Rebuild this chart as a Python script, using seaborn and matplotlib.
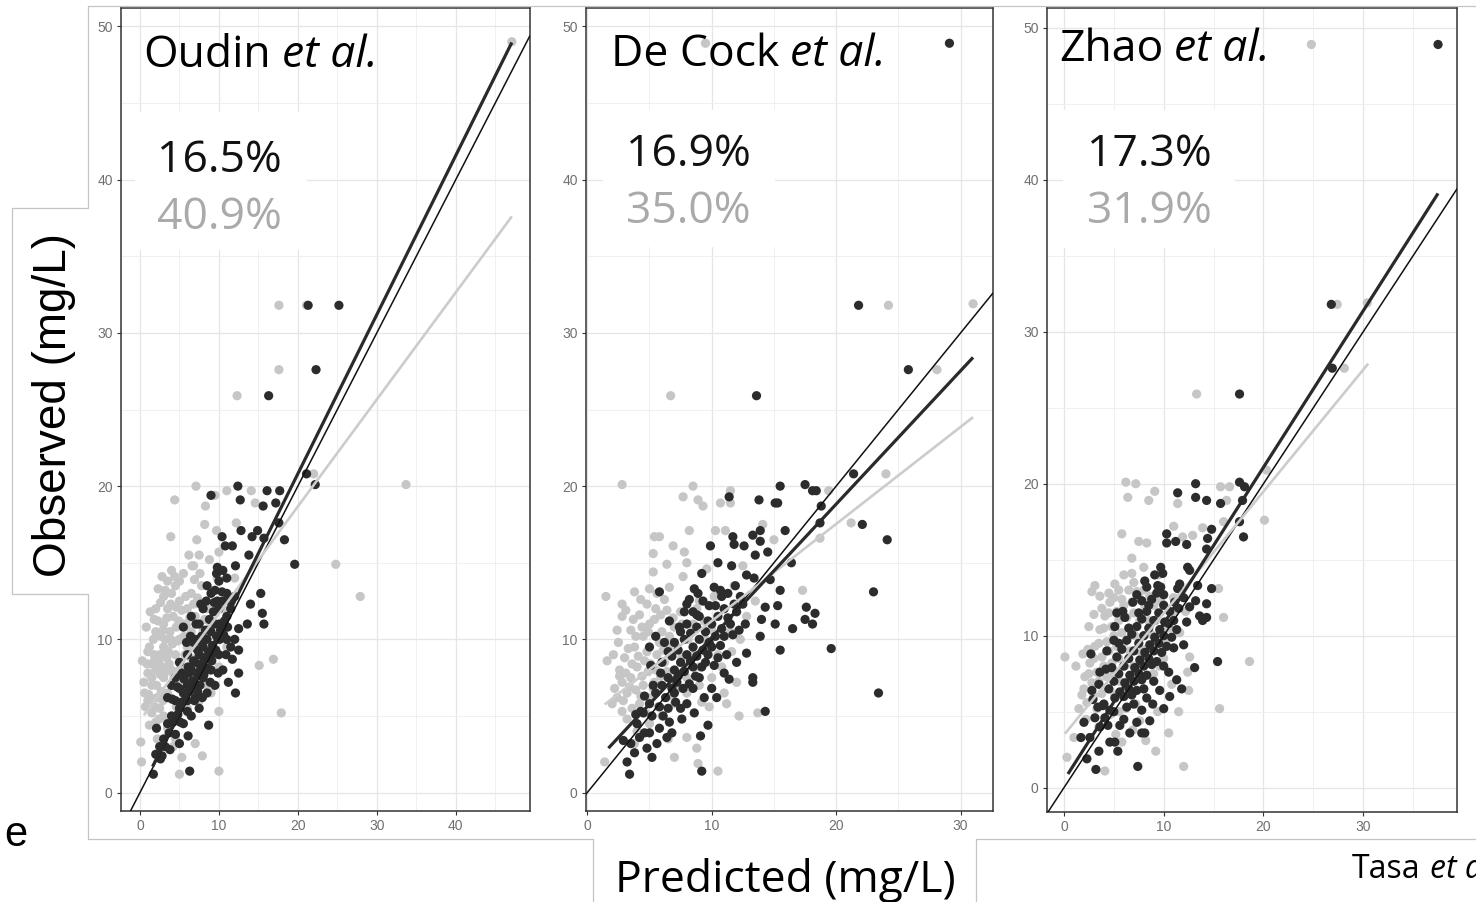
import numpy as np
import pandas as pd
import matplotlib
matplotlib.use('Agg')
import matplotlib.pyplot as plt
import seaborn as sns
from matplotlib.lines import Line2D
from matplotlib.patches import Rectangle
from matplotlib.ticker import MultipleLocator

W, H = 1476, 902
sns.set_theme(style="white")
plt.rcParams['font.family'] = ['Liberation Sans', 'DejaVu Sans']

DARK = '#2c2c2c'
LIGHT = '#c6c6c6'

# ---- data: (predicted, observed) ----
oudin_light = [
    (47.1, 49.0), (17.6, 31.8), (21.1, 31.8), (17.6, 27.6), (12.3, 25.9), (33.7, 20.1), (24.8, 14.9),
    (27.9, 12.8), (17.9, 5.2), (16.9, 8.7), (15.1, 8.3), (22.0, 20.8), (7.1, 20.0), (4.4, 19.1),
    (11.0, 19.7), (9.5, 19.4), (14.1, 19.7), (14.6, 18.9), (8.3, 18.7), (8.2, 17.5), (3.9, 16.7),
    (12.2, 17.6), (7.2, 16.5), (9.7, 17.1), (10.0, 15.7), (6.6, 14.8), (2.8, 14.1), (2.3, 13.3),
    (10.0, 1.4), (5.0, 1.2), (0.1, 3.3), (0.2, 2.0), (0.3, 8.6), (7.9, 2.4), (10.0, 5.3), (7.0, 3.2),
    (4.2, 3.0), (5.3, 2.3),
    (1, 6), (1.5, 7), (2, 8), (2.5, 9), (1.2, 9.5), (2, 10.5), (3, 11), (3.5, 12), (4, 13), (4.5, 13.5),
    (5, 12.5), (3, 7.5), (3.5, 6.5), (2.5, 5.5), (4, 5), (1.5, 5.2), (2.2, 6.2), (4, 8), (4.5, 9),
    (5, 10), (5.5, 11), (6, 12), (6.5, 13), (3, 9.5), (3.8, 10.5), (4.2, 11.5), (5.2, 8.5), (6, 9.5),
    (6.5, 10.5), (7, 11.5), (1, 7.8), (2.8, 8.2), (3.2, 10), (4.8, 7.2), (5.5, 6.5), (6, 7.5), (7, 8),
    (7.5, 9.5), (8, 10.5), (8.5, 12), (0.8, 10.8), (2, 12), (3.5, 13.8), (5.5, 14.3), (6.8, 14.8),
    (7.5, 15.5), (9, 11), (9.5, 9), (8.5, 7), (10, 8.2), (11, 9.5), (10.5, 12), (3.5, 4.2), (2, 4.6),
    (4.5, 3.5), (6, 5.5), (7.5, 6), (9, 6.5), (11.5, 12.5), (12, 14), (3, 12.8), (1.8, 9), (2.6, 10.2),
    (3.4, 8.8), (4.6, 10.8), (5.8, 12.8), (6.2, 15.5), (7.8, 13.5), (1.3, 11.8), (0.6, 6.5), (2.2, 3.5),
    (4, 14.5), (9.8, 14), (8.8, 15.2),
    (0.7, 5.6), (1.1, 6.4), (1.6, 6.1), (2.1, 7.0), (2.7, 6.6), (3.3, 7.9), (1.4, 8.4), (1.9, 8.8),
    (2.4, 8.5), (3.0, 9.0), (3.6, 9.2), (4.1, 9.7), (4.8, 9.9), (1.7, 10.0), (2.3, 11.2), (2.9, 10.6),
    (3.4, 11.4), (3.9, 12.3), (4.6, 12.1), (5.3, 11.9), (5.9, 10.9), (6.3, 11.4), (6.8, 12.3),
    (7.3, 12.7), (1.0, 9.2), (0.9, 8.4), (1.5, 7.5), (2.6, 7.7), (3.7, 8.4), (4.3, 7.6), (5.0, 8.0),
    (5.7, 9.0), (6.4, 8.8), (7.1, 9.4), (7.9, 9.0), (8.4, 9.8), (4.0, 6.1), (4.6, 5.6), (5.2, 5.9),
    (3.0, 5.0), (2.4, 4.8), (1.2, 4.4), (6.6, 6.7), (7.7, 7.3), (3.2, 13.2), (4.4, 14.1), (5.0, 13.8),
    (2.6, 12.4), (1.8, 11.3), (6.9, 13.9), (7.6, 14.3), (8.2, 11.3), (0.5, 7.2), (1.9, 5.6), (2.9, 6.0),
    (3.9, 10.0), (4.9, 11.2), (5.6, 10.2),
]
oudin_dark = [
    (21.3, 31.8), (25.2, 31.8), (22.3, 27.6), (16.3, 25.9), (19.6, 14.9), (18.3, 16.5), (22.2, 20.1),
    (21.1, 20.8), (12.4, 20.0), (9.0, 19.4), (16.1, 19.7), (17.7, 19.7), (12.7, 19.1), (15.6, 18.7),
    (17.2, 18.9), (17.6, 17.6), (12.8, 17.1), (10.4, 16.7), (14.9, 17.1), (14.2, 16.7), (15.7, 16.6),
    (10.8, 16.1), (11.7, 16.1), (13.8, 15.5), (12.1, 14.8), (9.7, 14.3), (15.3, 13.0), (14.0, 12.3),
    (15.5, 11.7), (15.7, 11.0), (13.6, 11.0), (12.5, 10.7), (12.5, 9.3), (12.5, 7.8), (12.1, 6.5),
    (11.2, 7.2), (8.7, 4.4), (6.3, 1.4), (1.7, 1.2), (2.1, 4.2), (2.8, 2.4), (6.1, 3.7),
    (2, 2.5), (2.5, 3), (3, 3.5), (3.5, 4.5), (4, 5), (4.5, 6), (5, 5.5), (5.5, 6.5), (6, 7), (6.5, 8),
    (7, 8.5), (7.5, 9), (8, 9.5), (8.5, 10), (9, 10.5), (9.5, 11), (10, 12), (10.5, 12.5), (11, 13),
    (6, 9), (7, 10), (7.5, 11), (8, 12), (9, 13), (8.5, 13.5), (9.5, 13.2), (10, 13.8), (10.5, 14.5),
    (6.5, 11.5), (5.5, 10.8), (5, 8.5), (4, 7), (4.5, 7.5), (5, 6.8), (3.5, 6.2), (6, 6), (7, 7),
    (8, 7.5), (9, 8), (10, 9), (11, 10), (11.5, 9.5), (12, 10), (10.5, 8), (9.5, 7), (8.5, 6.5),
    (7.5, 5.5), (6.5, 5), (5.5, 4.5), (10, 11), (11, 11.5), (4.5, 3.8), (3.8, 2.8), (5, 3.2), (7, 6.2),
    (9, 9), (8, 8.5), (6.8, 9.8), (7.8, 10.2), (11.5, 12), (12, 12.8), (11, 14), (9.8, 14.7),
    (4.2, 4.6), (4.8, 5.1), (5.3, 5.9), (5.8, 6.1), (6.2, 6.6), (6.7, 7.3), (7.2, 7.8), (7.7, 8.2),
    (8.2, 8.8), (8.7, 9.2), (9.2, 9.6), (9.7, 10.2), (10.2, 10.6), (10.7, 11.2), (6.2, 7.8), (6.8, 8.6),
    (7.3, 9.3), (7.8, 9.8), (8.3, 10.6), (8.8, 11.3), (9.3, 11.8), (9.8, 12.5), (5.6, 7.4), (6.1, 8.2),
    (7.6, 7.0), (8.1, 7.7), (8.6, 8.1), (9.1, 8.6), (9.6, 9.3), (10.1, 10.0), (10.6, 10.3), (11.1, 10.8),
    (5.1, 4.6), (6.0, 5.3), (6.9, 6.0), (7.3, 6.6), (4.1, 6.1), (4.7, 6.9), (5.3, 7.8), (5.9, 9.8),
    (6.4, 10.2), (7.1, 11.0), (7.7, 12.3), (8.4, 12.5), (9.4, 12.4), (10.4, 13.1), (11.3, 12.5),
    (3.2, 3.0), (3.7, 3.9), (2.6, 2.2), (7.9, 6.2), (8.9, 7.2), (9.9, 7.8), (10.9, 9.0), (11.7, 8.7),
]
decock_light = [
    (9.5, 48.9), (24.2, 31.8), (31.0, 31.9), (28.1, 27.6), (6.7, 25.9), (2.8, 20.1), (8.5, 20.0),
    (7.7, 19.3), (8.9, 19.1), (9.3, 18.7), (11.5, 19.7), (10.7, 18.9), (11.5, 18.9), (19.4, 19.7),
    (24.0, 20.8), (21.2, 17.6), (18.7, 16.6), (15.0, 16.5), (17.3, 13.2), (13.7, 5.2), (12.2, 5.0),
    (10.5, 1.4), (8.9, 1.9), (8.8, 2.9), (8.0, 3.6), (7.0, 2.3), (1.4, 2.0), (1.6, 8.6), (1.5, 12.8),
    (2.6, 8.0), (2.8, 12.3), (2.8, 11.5), (3.8, 13.1), (4.3, 12.6), (5.0, 13.3), (5.3, 14.4),
    (5.3, 15.6), (5.4, 16.7), (5.8, 16.7), (6.9, 16.1), (6.4, 14.9), (7.8, 15.7), (8.2, 17.1),
    (8.0, 15.0), (7.7, 14.1), (6.6, 13.4), (9.6, 14.6), (10.3, 17.1), (11.1, 17.1), (14.1, 17.5),
    (12.5, 14.8),
    (2.2, 6.8), (2.8, 7.2), (3.2, 6.5), (3.5, 7.5), (4, 8.2), (4.5, 7), (5, 6.2), (3, 8.8), (3.8, 9.5),
    (4.5, 10.2), (5, 11), (5.5, 12), (4.2, 11.6), (3.5, 10.6), (6, 10.5), (6.5, 9.5), (7, 10.8),
    (7.5, 11.8), (6.2, 8.5), (5.5, 8), (4.8, 9.2), (2.5, 9.8), (3.2, 4.8), (4, 4), (5, 4.5), (6, 5),
    (7, 5.8), (8, 6.5), (9, 7), (10, 7.5), (11, 6.5), (12, 7.2), (10.5, 9), (11.5, 10.5), (12.8, 11.5),
    (13.5, 12.5), (9, 12.5), (8.5, 11), (9.5, 10), (7.2, 7.2), (6.8, 6.3), (8.2, 8.3), (4.2, 5.8),
    (3.8, 3.2), (6.5, 3.5), (9.8, 5.6), (10.2, 12.8), (11.8, 13.5), (5.8, 9.8), (2, 5.8),
    (2.4, 6.2), (2.9, 6.0), (3.4, 6.9), (3.9, 6.7), (4.4, 7.6), (4.9, 7.9), (5.4, 7.2), (5.9, 7.6),
    (6.4, 7.9), (2.6, 7.6), (3.1, 7.8), (3.6, 8.4), (4.1, 8.9), (4.6, 8.6), (5.1, 8.4), (5.6, 9.0),
    (6.1, 9.3), (6.6, 10.2), (7.1, 9.6), (3.3, 9.4), (3.9, 10.2), (4.4, 10.8), (4.9, 10.5), (5.4, 11.3),
    (5.9, 11.6), (6.4, 11.9), (6.9, 11.4), (7.6, 11.0), (8.1, 10.0), (8.6, 9.0), (8.0, 7.5), (7.6, 8.8),
    (2.1, 9.0), (2.4, 10.6), (3.1, 11.9), (3.7, 11.3), (4.8, 12.3), (5.6, 13.0), (6.2, 12.6), (4.3, 6.3),
    (5.3, 6.8), (6.3, 6.2), (7.3, 6.8), (3.6, 5.5), (4.7, 5.2), (5.7, 5.6), (2.8, 5.3), (8.8, 12.0),
    (9.4, 11.2), (10.0, 10.6), (9.0, 8.2), (10.8, 8.2), (11.6, 9.2), (12.3, 10.0), (9.2, 5.9), (11.2, 5.8),
]
decock_dark = [
    (29.1, 48.9), (21.8, 31.8), (25.8, 27.6), (13.6, 25.9), (11.4, 19.3), (13.8, 19.1), (15.5, 20.0),
    (15.1, 18.9), (15.3, 18.9), (17.5, 20.1), (18.1, 19.7), (18.4, 19.7), (21.4, 20.8), (18.8, 18.7),
    (18.7, 17.6), (22.1, 17.5), (24.1, 16.5), (16.4, 15.0), (15.9, 17.1), (23.0, 13.1), (23.4, 6.5),
    (19.6, 9.4), (17.6, 12.1), (18.3, 11.7), (17.5, 11.3), (18.1, 11.0), (16.5, 10.7), (15.5, 13.2),
    (15.3, 12.2), (15.1, 11.0), (14.3, 12.1), (14.0, 11.3), (13.9, 10.2), (15.5, 9.3), (14.3, 5.3),
    (13.3, 7.5), (13.3, 7.2), (12.8, 9.1), (9.7, 4.4), (9.1, 3.7), (9.2, 1.4), (6.4, 3.6), (5.2, 2.3),
    (4.8, 2.9), (4.6, 3.9), (3.4, 1.2), (3.2, 2.0), (2.9, 3.4), (5.8, 13.1), (9.2, 14.3), (9.9, 16.1),
    (10.5, 15.0), (11.7, 16.7), (11.8, 16.2), (12.6, 16.1), (13.3, 16.8), (13.9, 17.1), (13.9, 16.4),
    (13.5, 15.5), (14.5, 15.7), (11.6, 14.8), (12.8, 14.2), (13.4, 14.0), (14.7, 13.9), (8.6, 13.3),
    (10.2, 13.4), (10.7, 13.2), (11.9, 13.5), (8.2, 12.6), (8.5, 11.8),
    (4, 4.5), (4.5, 5.2), (5, 5.8), (5.5, 6.5), (6, 7), (6.5, 7.5), (7, 8), (7.5, 8.5), (8, 9),
    (8.5, 9.5), (9, 10), (9.5, 10.5), (10, 11), (10.5, 11.5), (11, 12), (6, 8.5), (6.5, 9.2), (7, 9.8),
    (7.5, 10.5), (8, 11), (9, 11.5), (5.5, 10.2), (5, 9.5), (7, 6.5), (7.5, 5.5), (8, 5.8), (8.5, 6.8),
    (9, 7.5), (9.5, 8.5), (10, 9.5), (10.5, 8.8), (11, 10.2), (11.5, 11), (12, 11.8), (12.5, 12.3),
    (10, 6.8), (11, 7.8), (8.5, 8.2), (6.5, 5.5), (5.8, 4.2), (3.5, 3.2), (7.2, 7.2), (8.8, 10.8),
    (9.8, 12.2), (6.2, 9.8), (7.8, 11.8),
    (4.3, 5.3), (5.2, 5.0), (5.8, 5.6), (6.3, 6.2), (6.8, 6.8), (7.3, 7.6), (7.8, 7.9), (8.3, 8.6),
    (8.8, 8.9), (9.3, 9.3), (9.8, 9.8), (10.3, 10.2), (10.8, 10.7), (11.3, 11.4), (11.8, 12.3),
    (12.3, 12.8), (5.3, 7.0), (5.9, 7.8), (6.8, 8.9), (7.3, 9.3), (7.8, 10.0), (8.3, 10.4), (8.8, 11.6),
    (9.3, 12.5), (9.7, 11.2), (10.3, 12.2), (10.8, 12.8), (11.3, 13.0), (7.1, 5.9), (7.7, 6.8),
    (8.2, 7.1), (8.7, 7.6), (9.2, 8.2), (9.7, 9.0), (10.2, 8.3), (10.7, 9.6), (11.2, 9.0), (11.7, 10.3),
    (12.2, 10.6), (12.7, 11.0), (6.1, 5.0), (6.6, 4.6), (7.6, 4.8), (8.6, 5.2), (9.4, 6.2), (10.4, 6.2),
    (11.4, 7.4), (12.0, 8.5), (3.8, 2.6), (4.2, 3.6), (5.0, 3.9), (5.6, 3.2), (6.8, 3.9), (7.4, 10.8),
    (8.0, 12.3), (8.9, 13.0), (6.6, 11.2), (5.1, 8.3), (4.6, 6.3), (3.9, 5.1),
]
zhao_light = [
    (24.8, 48.9), (27.4, 31.8), (30.4, 31.9), (28.1, 27.6), (13.3, 25.9), (6.2, 20.1), (7.2, 20.0),
    (6.4, 19.1), (8.5, 18.9), (9.1, 19.5), (11.4, 18.7), (15.7, 19.8), (16.6, 19.8), (16.3, 18.9),
    (20.3, 20.9), (20.1, 17.6), (16.0, 17.5), (13.9, 17.1), (12.9, 16.6), (11.0, 17.2), (11.9, 16.5),
    (7.5, 16.2), (8.3, 16.1), (5.8, 16.7), (6.8, 15.1), (6.8, 14.1), (3.1, 13.3), (2.8, 12.9),
    (2.5, 10.6), (0.1, 8.6), (1.2, 8.0), (0.3, 2.0), (1.0, 3.3), (4.1, 1.1), (12.0, 1.4), (9.2, 2.4),
    (10.5, 3.6), (8.2, 3.1), (11.5, 5.0), (15.6, 5.2), (18.6, 8.3), (12.4, 7.6), (12.5, 6.4),
    (12.6, 8.6), (15.5, 13.1), (16.0, 11.2),
    (2, 6.5), (2.5, 7.5), (3, 8.5), (3.5, 9.5), (4, 10.5), (4.5, 11.5), (5, 12.5), (5.5, 13), (3, 6),
    (3.5, 7), (4, 8), (4.5, 9), (5, 10), (5.5, 11), (6, 12), (6.5, 13), (7, 13.5), (4, 5.5), (4.5, 6.5),
    (5, 7.5), (5.5, 8.5), (6, 9.5), (6.5, 10.5), (7, 11.5), (7.5, 12.5), (8, 13), (5.5, 5), (6, 6),
    (6.5, 7), (7, 8), (7.5, 9), (8, 10), (8.5, 11), (9, 12), (1.5, 5.2), (2.2, 4.5), (3.5, 4), (8, 6.5),
    (9, 7.5), (10, 8.5), (10.5, 10.5), (11, 12.5), (9.5, 14), (8, 14.5), (6, 14), (4.5, 12.8),
    (7.2, 5.5), (5.2, 3.5), (3.8, 11.8), (9.5, 9.2), (10.8, 6.8),
    (2.3, 5.6), (2.8, 6.9), (3.3, 7.6), (3.8, 8.6), (4.3, 9.6), (4.8, 10.6), (5.3, 11.6), (5.8, 12.4),
    (2.6, 8.2), (3.1, 9.3), (3.6, 10.4), (4.1, 11.3), (4.6, 12.2), (5.1, 13.4), (3.3, 5.2), (3.8, 6.2),
    (4.3, 7.3), (4.8, 8.2), (5.3, 9.3), (5.8, 10.2), (6.3, 11.2), (6.8, 12.2), (7.3, 12.9), (4.6, 4.8),
    (5.1, 6.1), (5.6, 7.0), (6.1, 8.0), (6.6, 9.0), (7.1, 10.0), (7.6, 11.0), (8.1, 12.0), (8.6, 12.6),
    (6.2, 5.2), (6.7, 6.2), (7.2, 7.1), (7.7, 8.1), (8.2, 9.1), (8.7, 10.1), (9.2, 11.0), (9.7, 12.3),
    (1.8, 6.1), (2.1, 7.3), (2.4, 9.1), (1.9, 8.8), (3.0, 11.4), (3.6, 12.6), (8.6, 7.4), (9.6, 8.0),
    (10.2, 9.6), (10.9, 11.4), (11.6, 10.2), (12.2, 11.6), (7.6, 4.4), (9.4, 5.0), (6.9, 3.8), (5.8, 3.0),
]
zhao_dark = [
    (37.5, 48.9), (26.8, 31.8), (26.9, 27.6), (17.6, 25.9), (11.4, 19.4), (13.2, 20.0), (13.2, 19.1),
    (14.3, 18.9), (15.7, 18.7), (17.6, 20.1), (18.1, 19.8), (17.9, 18.9), (17.6, 17.5), (18.0, 16.5),
    (14.8, 17.0), (14.4, 16.4), (14.3, 15.7), (10.3, 16.7), (11.2, 16.2), (12.3, 16.0), (10.3, 16.1),
    (3.2, 1.2), (7.4, 1.4), (5.4, 2.4), (3.5, 2.4), (4.6, 3.0), (5.1, 3.0), (2.3, 1.9), (1.7, 3.3),
    (2.6, 3.3), (7.8, 3.6), (8.1, 3.6), (2.0, 4.3), (8.6, 4.4), (7.8, 5.1), (10.0, 5.2), (8.9, 5.5),
    (15.4, 8.3), (13.1, 7.9), (11.8, 6.5), (11.3, 7.1), (10.5, 7.6), (11.0, 9.2), (12.0, 9.4),
    (14.8, 13.1), (14.3, 12.1), (14.3, 11.2), (13.9, 11.0), (13.6, 11.3), (13.2, 12.3), (13.4, 13.3),
    (12.6, 14.3), (12.4, 14.5), (11.4, 13.1), (11.6, 13.4), (9.7, 13.2), (9.4, 13.3), (10.0, 12.7),
    (9.7, 14.5), (9.9, 14.1), (8.3, 13.2), (7.3, 12.7), (7.8, 12.3), (5.3, 11.5), (5.9, 11.6),
    (5.0, 9.7), (2.7, 8.8), (2.8, 6.4), (3.4, 5.3), (3.9, 5.4),
    (4, 5.5), (4.5, 6.5), (5, 7), (5.5, 7.5), (6, 8), (6.5, 8.5), (7, 9), (7.5, 9.5), (8, 10),
    (8.5, 10.5), (9, 11), (9.5, 11.5), (10, 12), (5, 5), (6, 6), (7, 7), (8, 8), (9, 9), (10, 10),
    (11, 11), (6.5, 6.5), (7.5, 7.5), (8.5, 8.5), (9.5, 9.5), (10.5, 10.8), (5.5, 9.5), (6.5, 10.5),
    (7.5, 11.5), (8.5, 12), (8, 6.5), (9, 7), (10, 8), (6, 4.5), (7, 5.5), (4.2, 7.8), (3.5, 6.8),
    (11.5, 11.8), (12, 12.5),
    (3.6, 4.0), (4.1, 4.6), (4.6, 5.1), (5.1, 5.9), (5.6, 6.3), (6.1, 6.9), (6.6, 7.4), (7.1, 7.9),
    (7.6, 8.4), (8.1, 8.9), (8.6, 9.4), (9.1, 9.9), (9.6, 10.4), (10.1, 10.9), (10.6, 11.6),
    (11.1, 12.2), (4.8, 7.9), (5.3, 8.6), (5.8, 9.1), (6.3, 9.7), (6.8, 10.1), (7.3, 10.6), (7.8, 11.1),
    (8.3, 11.6), (8.8, 12.4), (9.3, 12.8), (6.3, 5.3), (6.8, 6.1), (7.3, 6.4), (7.8, 7.1), (8.3, 7.4),
    (8.8, 8.1), (9.3, 8.3), (9.8, 8.9), (10.3, 9.3), (10.8, 9.9), (11.3, 10.4), (12.3, 10.9),
    (12.6, 11.9), (4.4, 4.1), (5.6, 4.1), (6.6, 3.6), (7.3, 4.3), (8.3, 5.9), (9.6, 6.4), (10.6, 6.0),
    (3.1, 4.6), (2.9, 5.8), (3.6, 7.6), (4.3, 9.0), (5.1, 10.6), (6.1, 11.2), (6.9, 12.2), (8.1, 13.6),
    (9.1, 14.0),
]

# fitted lines (start / end points)
oudin_fit_dark = [(1.6, 1.7), (47.1, 48.95)]
oudin_fit_light = [(0.5, 5.05), (47.1, 37.6)]
decock_fit_dark = [(1.7, 2.9), (31.0, 28.4)]
decock_fit_light = [(1.4, 5.75), (31.0, 24.5)]
zhao_fit_dark = [(0.4, 0.9), (37.5, 39.1)]
zhao_fit_light = [(0.1, 3.55), (30.5, 27.9)]

study_names = ['Oudin', 'De Cock', 'Zhao']
error_dark = ['16.5%', '16.9%', '17.3%']
error_light = ['40.9%', '35.0%', '31.9%']

panels = [
    dict(light=oudin_light, dark=oudin_dark, fd=oudin_fit_dark, fl=oudin_fit_light,
         box=(121, 8, 530, 811), xlim=(-2.4, 49.4), ylim=(-1.2, 51.2), xmax_tick=40,
         title_xy=(143, 67), pct_xy=(157, 172, 229), wbox=(135, 112, 307, 250)),
    dict(light=decock_light, dark=decock_dark, fd=decock_fit_dark, fl=decock_fit_light,
         box=(586, 8, 993, 811), xlim=(-0.1, 32.6), ylim=(-1.2, 51.2), xmax_tick=30,
         title_xy=(611, 66), pct_xy=(626, 166, 223), wbox=(603, 110, 775, 247)),
    dict(light=zhao_light, dark=zhao_dark, fd=zhao_fit_dark, fl=zhao_fit_light,
         box=(1047, 8, 1457, 812), xlim=(-1.7, 39.4), ylim=(-1.6, 51.3), xmax_tick=30,
         title_xy=(1059, 61), pct_xy=(1087, 166, 223), wbox=(1063, 110, 1235, 248)),
]


def fx(px):
    return px / W


def fy(py):
    return 1 - py / H


fig = plt.figure(figsize=(W / 100, H / 100), dpi=100)
fig.patch.set_facecolor('white')
renderer = fig.canvas.get_renderer()

SLIDE_FONT = ['Open Sans', 'DejaVu Sans']


def mixed_label(px, py, plain, size, gap=12):
    # regular name followed by italic "et al."
    t = fig.text(fx(px), fy(py), plain, fontsize=size, family=SLIDE_FONT,
                 color='black', va='baseline', ha='left')
    end = t.get_window_extent(renderer).x1
    fig.text((end + gap) / W, fy(py), 'et al.', fontsize=size, family=SLIDE_FONT,
             style='italic', color='black', va='baseline', ha='left')


for i, p in enumerate(panels):
    x0, y0, x1, y1 = p['box']
    ax = fig.add_axes([fx(x0), fy(y1), (x1 - x0) / W, (y1 - y0) / H])
    df = pd.concat([
        pd.DataFrame(p['light'], columns=['pred', 'obs']).assign(model='light'),
        pd.DataFrame(p['dark'], columns=['pred', 'obs']).assign(model='dark'),
    ], ignore_index=True)
    sns.scatterplot(data=df, x='pred', y='obs', hue='model',
                    palette={'light': LIGHT, 'dark': DARK}, s=44, linewidth=0,
                    legend=False, ax=ax, zorder=3)
    ax.axline((0, 0), slope=1, color='#111111', lw=1.1, zorder=4)
    fl = np.array(p['fl'])
    fd = np.array(p['fd'])
    ax.plot(fl[:, 0], fl[:, 1], color='#cccccc', lw=1.9, zorder=4, solid_capstyle='butt')
    ax.plot(fd[:, 0], fd[:, 1], color='#2a2a2a', lw=2.3, zorder=5, solid_capstyle='butt')

    ax.set_xlim(*p['xlim'])
    ax.set_ylim(*p['ylim'])
    ax.set_xticks(range(0, p['xmax_tick'] + 1, 10))
    ax.set_yticks(range(0, 51, 10))
    ax.xaxis.set_minor_locator(MultipleLocator(5))
    ax.yaxis.set_minor_locator(MultipleLocator(5))
    ax.grid(which='major', color='#e6e6e6', lw=0.9)
    ax.grid(which='minor', color='#eeeeee', lw=0.6)
    ax.set_axisbelow(True)
    ax.tick_params(which='major', length=3, width=0.8, color='#333333', labelsize=10,
                   labelcolor='#707070', pad=3, left=True, bottom=True)
    ax.tick_params(which='minor', length=0)
    for s in ax.spines.values():
        s.set_color('#333333')
        s.set_linewidth(1.1)
    ax.set_xlabel('')
    ax.set_ylabel('')

    # white text box behind the error percentages
    bx0, by0, bx1, by1 = p['wbox']
    ax.add_patch(Rectangle((fx(bx0), fy(by1)), (bx1 - bx0) / W, (by1 - by0) / H,
                           transform=fig.transFigure, facecolor='white', edgecolor='none',
                           zorder=2))

    tx, ty = p['title_xy']
    mixed_label(tx, ty, study_names[i], 32, gap=11)
    px_, py1, py2 = p['pct_xy']
    fig.text(fx(px_), fy(py1), error_dark[i], fontsize=32, family=SLIDE_FONT,
             color='#111111', va='baseline', ha='left')
    fig.text(fx(px_), fy(py2), error_light[i], fontsize=32, family=SLIDE_FONT,
             color='#aaaaaa', va='baseline', ha='left')

# slide frame lines
frame = '#c4c4c4'
segments = [
    ((88, 6), (1476, 6)),
    ((88, 6), (88, 208)),
    ((88, 594), (88, 839)),
    ((12, 208), (88, 208)),
    ((12, 208), (12, 594)),
    ((12, 594), (88, 594)),
    ((88, 839), (593, 839)),
    ((593, 839), (593, 902)),
    ((976, 839), (976, 902)),
    ((976, 839), (1476, 839)),
]
for (a, b) in segments:
    fig.add_artist(Line2D([fx(a[0]), fx(b[0])], [fy(a[1]), fy(b[1])], color=frame, lw=0.9))

fig.text(fx(54), fy(405), 'Observed (mg/L)', rotation=90, fontsize=33,
         family=['Liberation Sans Narrow', 'Liberation Sans'], ha='center', va='center',
         color='black')
fig.text(fx(615), fy(892), 'Predicted (mg/L)', fontsize=32, family=SLIDE_FONT,
         va='baseline', ha='left', color='black')
mixed_tasa = fig.text(fx(1352), fy(878), 'Tasa', fontsize=23, family=SLIDE_FONT,
                      va='baseline', ha='left', color='black')
tasa_end = mixed_tasa.get_window_extent(renderer).x1
fig.text((tasa_end + 9) / W, fy(878), 'et al.', fontsize=23, family=SLIDE_FONT,
         style='italic', va='baseline', ha='left', color='black')
fig.text(fx(4), fy(846), 'e', fontsize=30, family=['Liberation Sans', 'DejaVu Sans'],
         va='baseline', ha='left', color='black')

fig.savefig('out.png', dpi=100, facecolor='white')
